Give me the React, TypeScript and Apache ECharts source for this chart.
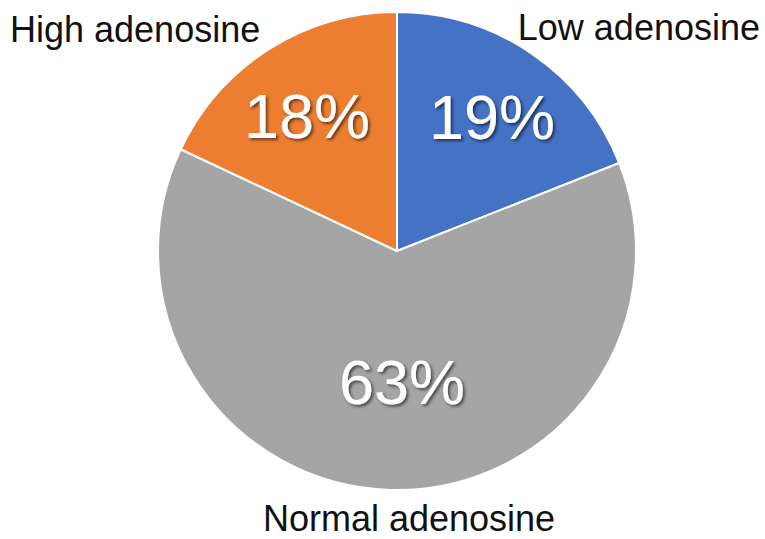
import React, { useEffect, useRef } from "react";
import * as echarts from "echarts";

const categories = ["Low adenosine", "Normal adenosine", "High adenosine"];
const values = [19, 63, 18];
const colors = ["#4472C4", "#A5A5A5", "#ED7D31"];
// centres of the percentage labels (layout only)
const pctLabelXY = [
  [492, 117],
  [402, 382],
  [307, 116],
];
// category name labels (layout only)
const nameLabelLayout = [
  { x: 760, y: 27, align: "right" },
  { x: 409, y: 518, align: "center" },
  { x: 10, y: 29, align: "left" },
];

export default function App() {
  const ref = useRef<HTMLDivElement>(null);
  useEffect(() => {
    if (!ref.current) return;
    const chart = echarts.init(ref.current, undefined, { renderer: "svg" });
    chart.setOption({
      animation: false,
      backgroundColor: "#ffffff",
      series: [
        {
          type: "pie",
          center: [397, 251],
          radius: 239,
          startAngle: 90,
          clockwise: true,
          silent: true,
          emphasis: { disabled: true },
          itemStyle: { borderColor: "#ffffff", borderWidth: 2 },
          label: {
            show: true,
            position: "inside",
            formatter: (p: any) => p.value + "%",
            color: "#ffffff",
            fontSize: 63,
            fontFamily: "Liberation Sans, Arial, sans-serif",
            textShadowColor: "rgba(0,0,0,0.55)",
            textShadowBlur: 3,
            textShadowOffsetX: 2,
            textShadowOffsetY: 2,
          },
          labelLine: { show: false },
          labelLayout: (params: any) => {
            const xy = pctLabelXY[params.dataIndex];
            return { x: xy[0], y: xy[1], align: "center", verticalAlign: "middle" };
          },
          data: categories.map((name, i) => ({
            name,
            value: values[i],
            itemStyle: { color: colors[i] },
          })),
        },
      ],
      graphic: categories.map((name, i) => ({
        type: "text",
        x: nameLabelLayout[i].x,
        y: nameLabelLayout[i].y,
        silent: true,
        style: {
          text: name,
          fill: "#111111",
          fontSize: 36,
          fontFamily: "Liberation Sans, Arial, sans-serif",
          textAlign: nameLabelLayout[i].align,
          textVerticalAlign: "middle",
        },
      })),
    });
    return () => chart.dispose();
  }, []);
  return (
    <div
      ref={ref}
      style={{ position: "fixed", left: 0, top: 0, width: 765, height: 539 }}
    />
  );
}
